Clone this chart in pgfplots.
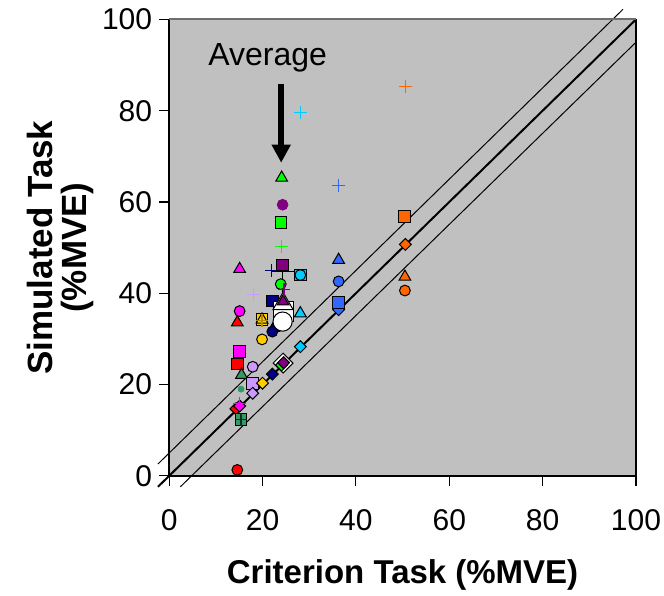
\documentclass[border=0pt]{standalone}
\usepackage{pgfplots}
\pgfplotsset{compat=1.18}
\usepackage{fontspec}
\setmainfont{Liberation Sans}
\usetikzlibrary{arrows.meta}

\definecolor{bggray}{RGB}{192,192,192}
\definecolor{xred}{RGB}{255,0,0}
\definecolor{xmag}{RGB}{255,0,255}
\definecolor{xsea}{RGB}{51,153,102}
\definecolor{xlav}{RGB}{204,153,255}
\definecolor{xgold}{RGB}{255,204,0}
\definecolor{xnavy}{RGB}{0,0,128}
\definecolor{xpurp}{RGB}{128,0,128}
\definecolor{xlime}{RGB}{0,255,0}
\definecolor{xcyan}{RGB}{0,204,255}
\definecolor{xblue}{RGB}{51,102,255}
\definecolor{xorng}{RGB}{255,102,0}
\definecolor{topgray}{RGB}{110,110,110}

\pgfplotsset{
  cir/.style={only marks, mark=*, mark size=2.7pt, mark options={fill=#1, draw=black, line width=0.5pt}},
  sq/.style={only marks, mark=square*, mark size=2.9pt, mark options={fill=#1, draw=black, line width=0.5pt}},
  tri/.style={only marks, mark=triangle*, mark size=3.4pt, mark options={fill=#1, draw=black, line width=0.5pt}},
  dia/.style={only marks, mark=square*, mark size=2.1pt, mark options={rotate=45, fill=#1, draw=black, line width=0.5pt}},
  pls/.style={only marks, mark=+, mark size=3.2pt, mark options={draw=#1, line width=0.6pt}},
}

\begin{document}
\begin{tikzpicture}
\useasboundingbox (-84.6pt,-60pt) rectangle (247.5pt,238pt);
\begin{axis}[
    scale only axis,
    width=233.5pt, height=228.3pt,
    xmin=0, xmax=100, ymin=0, ymax=100,
    xtick={0,20,...,100}, ytick={0,20,...,100},
    axis background/.style={fill=bggray},
    axis line style={black, line width=0.7pt},
    tick align=outside,
    major tick length=5pt,
    tick style={black, line width=0.6pt},
    xtick pos=bottom, ytick pos=left,
    clip=false,
    /pgf/number format/assume math mode=true,
    tick label style={font=\fontsize{15}{18}\selectfont},
    xticklabel style={yshift=-8.5pt},
    every axis x label/.style={at={(axis description cs:0.5,0)}, yshift=-49.5pt, anchor=center, font=\bfseries\fontsize{16.5}{18}\selectfont},
    every axis y label/.style={at={(axis description cs:0,0.5)}, xshift=-54.6pt, rotate=90, anchor=center, align=center, font=\bfseries\fontsize{17.5}{17}\selectfont},
    xlabel={Criterion Task (\%MVE)},
    ylabel={Simulated Task\\(\%MVE)},
]
% reference lines
\addplot[black, line width=1pt] coordinates {(-2.4,-2.4) (100,100)};
\addplot[black, line width=0.5pt] coordinates {(-2.4,2.6) (97.2,102.2)};
\addplot[black, line width=0.5pt] coordinates {(2.4,-2.4) (100,95)};

% error bars on the averages
\addplot[black, line width=0.6pt] coordinates {(22.1,44.8) (28,44.8)};
\addplot[black, line width=0.6pt] coordinates {(24.3,44.8) (24.3,34)};

% red
\addplot[tri=xred] coordinates {(14.6,33.6)};
\addplot[sq=xred] coordinates {(14.6,24.5)};
\addplot[cir=xred] coordinates {(14.6,1.3)};
\addplot[dia=xred] coordinates {(14.3,14.7)};
% magenta
\addplot[tri=xmag] coordinates {(15.1,45.3)};
\addplot[cir=xmag] coordinates {(15.1,36.1)};
\addplot[sq=xmag] coordinates {(15.1,27.2)};
\addplot[dia=xmag] coordinates {(15.1,15.3)};
\addplot[pls=xmag] coordinates {(15.1,15.8)};
% sea green
\addplot[tri=xsea] coordinates {(15.5,22.1)};
\addplot[only marks, mark=*, mark size=1.5pt, mark options={fill=xsea, draw=xsea}] coordinates {(15.4,19.0)};
\addplot[sq=xsea] coordinates {(15.4,12.4)};
\addplot[pls=black!70!xsea] coordinates {(15.4,12.4)};
% lavender
\addplot[pls=xlav] coordinates {(18.0,39.8)};
\addplot[cir=xlav] coordinates {(17.9,23.9)};
\addplot[sq=xlav] coordinates {(17.9,20.3)};
\addplot[dia=xlav] coordinates {(17.9,18.1)};
% gold
\addplot[sq=xgold] coordinates {(19.9,34.2)};
\addplot[tri=xgold] coordinates {(19.9,34.2)};
\addplot[pls=xgold!70!black] coordinates {(19.9,34.0)};
\addplot[cir=xgold] coordinates {(19.9,29.9)};
\addplot[dia=xgold] coordinates {(20.0,20.3)};
% navy
\addplot[pls=xnavy] coordinates {(21.9,45.0)};
\addplot[sq=xnavy] coordinates {(22.1,38.3)};
\addplot[tri=xnavy] coordinates {(22.4,32.4)};
\addplot[cir=xnavy] coordinates {(22.1,31.6)};
\addplot[dia=xnavy] coordinates {(22.1,22.3)};
% averages (white)
\addplot[only marks, mark=square*, mark size=5pt, mark options={fill=white, draw=black, line width=0.5pt}] coordinates {(24.4,36.0)};
\addplot[only marks, mark=triangle*, mark size=5.8pt, mark options={fill=white, draw=black, line width=0.5pt}] coordinates {(24.4,37.7)};
\addplot[only marks, mark=*, mark size=4.8pt, mark options={fill=white, draw=black, line width=0.5pt}] coordinates {(24.3,33.8)};
\addplot[only marks, mark=square*, mark size=3.5pt, mark options={rotate=45, fill=white, draw=black, line width=0.5pt}] coordinates {(24.4,24.7)};
% purple
\addplot[sq=xpurp] coordinates {(24.3,46.2)};
\addplot[only marks, mark=*, mark size=2.7pt, mark options={fill=xpurp, draw=xpurp}] coordinates {(24.3,59.4)};
\addplot[tri=xpurp] coordinates {(24.4,38.2)};
% lime
\addplot[tri=xlime] coordinates {(24.1,65.3)};
\addplot[sq=xlime] coordinates {(24.0,55.5)};
\addplot[pls=xlime] coordinates {(24.1,50.2)};
\addplot[cir=xlime] coordinates {(23.9,42.0)};
\addplot[dia=xlime] coordinates {(24.1,24.3)};
\addplot[dia=xpurp] coordinates {(24.5,24.8)};
\addplot[pls=xpurp] coordinates {(24.6,40.9)};
% cyan
\addplot[pls=xcyan] coordinates {(28.1,79.6)};
\addplot[sq=xcyan] coordinates {(28.1,44.0)};
\addplot[cir=xcyan] coordinates {(28.1,44.0)};
\addplot[tri=xcyan] coordinates {(28.1,35.6)};
\addplot[dia=xcyan] coordinates {(28.1,28.3)};
% blue
\addplot[pls=xblue] coordinates {(36.3,63.6)};
\addplot[tri=xblue] coordinates {(36.3,47.3)};
\addplot[cir=xblue] coordinates {(36.3,42.6)};
\addplot[dia=xblue] coordinates {(36.3,36.4)};
\addplot[sq=xblue] coordinates {(36.3,38.0)};
% orange
\addplot[pls=xorng] coordinates {(50.6,85.3)};
\addplot[sq=xorng] coordinates {(50.4,56.8)};
\addplot[dia=xorng] coordinates {(50.6,50.7)};
\addplot[tri=xorng] coordinates {(50.5,43.6)};
\addplot[cir=xorng] coordinates {(50.5,40.6)};

% annotation
\node[font=\fontsize{16}{18}\selectfont] at (axis cs:21.1,91.5) {Average};
\draw[line width=3pt, -{Triangle[width=9pt,length=9pt]}] (axis cs:24,85.9) -- (axis cs:24,68.6);
\draw[topgray, line width=1pt] (rel axis cs:0,1) -- (rel axis cs:1,1);
\end{axis}
\end{tikzpicture}
\end{document}
